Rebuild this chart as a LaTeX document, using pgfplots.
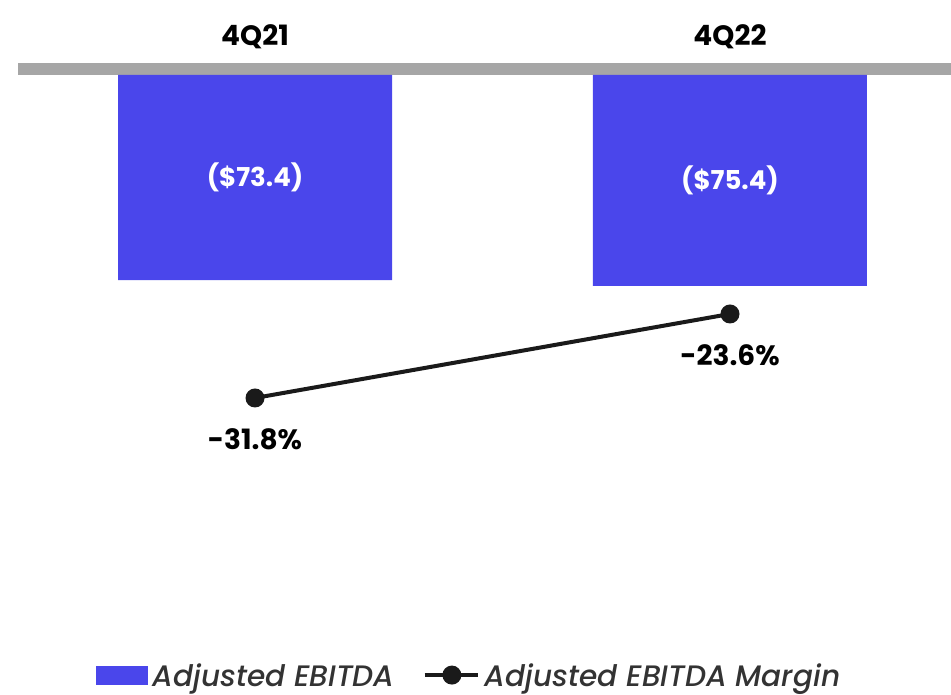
\documentclass[border=0pt]{standalone}
\usepackage{fontspec}
\setmainfont{Poppins}
\newfontfamily\legfont{Poppins Medium}[ItalicFont=Poppins Medium Italic]
\usepackage{pgfplots}
\pgfplotsset{compat=1.18}
\definecolor{barblue}{HTML}{4A46EB}
\definecolor{bandgray}{HTML}{A6A6A6}
\definecolor{linek}{HTML}{1A1A1A}
\definecolor{legtext}{HTML}{333333}
\newcommand{\lblfont}{\bfseries\fontsize{21pt}{21pt}\selectfont}
\newcommand{\barfont}{\bfseries\fontsize{19.5pt}{19.5pt}\selectfont}
\begin{document}
\begin{tikzpicture}
\path[use as bounding box] (0,0) rectangle (713.25pt,521.25pt);
\fill[bandgray] (13.5pt,465pt) rectangle (713.25pt,474pt);
\begin{axis}[
  at={(13.5pt,71.25pt)}, anchor=south west,
  scale only axis, width=699.75pt, height=393.75pt,
  xmin=-0.499, xmax=1.4653, ymin=-187.8, ymax=0,
  axis line style={draw=none},
  major tick length=0pt,
  ytick=\empty,
  xtick={0,1}, xticklabels={4Q21,4Q22},
  xticklabel pos=upper,
  xticklabel style={anchor=base, inner sep=0pt, yshift=21.75pt, font=\lblfont, text=black},
  clip=false,
]
\addplot[ybar, bar width=205.5pt, bar shift=0pt, fill=barblue, draw=none] coordinates {(0,-73.4) (1,-75.4)};
\addplot[draw=none, mark=none, point meta=explicit symbolic, nodes near coords,
  every node near coord/.append style={anchor=center, text=white, font=\barfont, inner sep=0pt}]
  coordinates {(0,-36.7) [(\$73.4)] (1,-37.7) [(\$75.4)]};
\end{axis}
\begin{axis}[
  at={(13.5pt,71.25pt)}, anchor=south west,
  scale only axis, width=699.75pt, height=393.75pt,
  xmin=-0.499, xmax=1.4653, ymin=-51.52, ymax=-0.27,
  hide axis, clip=false,
  legend style={at={(0.0836,-0.143)}, anchor=west, draw=none, fill=none,
    legend columns=-1, inner sep=0pt, outer sep=0pt,
    nodes={inner sep=0pt, text depth=0pt},
    font=\legfont\itshape\fontsize{22.2pt}{22.2pt}\selectfont, text=legtext,
    /tikz/every odd column/.append style={column sep=3.75pt},
    /tikz/every even column/.append style={column sep=21pt}},
]
\addlegendimage{legend image code/.code={\fill[barblue] (0pt,-6.75pt) rectangle (38.25pt,6.75pt);}}
\addlegendentry{Adjusted EBITDA}
\addplot[linek, line width=3pt, mark=*, mark size=5.6pt,
  legend image code/.code={\draw[linek, line width=3pt] (0pt,0pt) -- (40pt,0pt); \fill[linek] (20.5pt,0pt) circle (5.6pt);},
  point meta=explicit symbolic, nodes near coords,
  every node near coord/.append style={anchor=north, yshift=-21.75pt, text=black, font=\lblfont, inner sep=0pt}]
  coordinates {(0,-31.8) [-31.8\%] (1,-23.6) [-23.6\%]};
\addlegendentry{Adjusted EBITDA Margin}
\end{axis}
\end{tikzpicture}
\end{document}
